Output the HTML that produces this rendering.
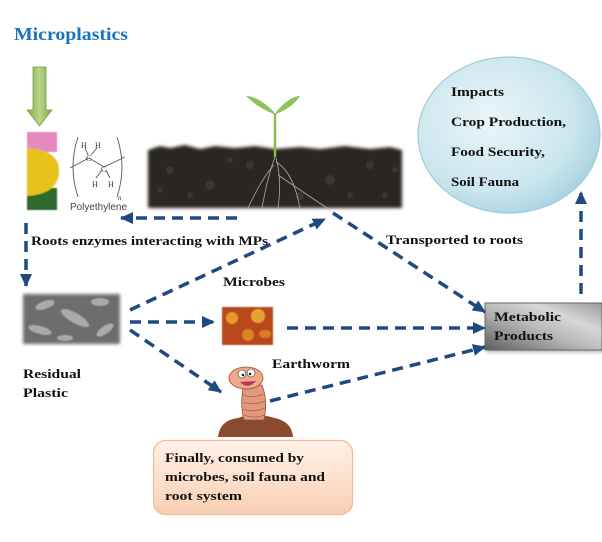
<!DOCTYPE html>
<html><head><meta charset="utf-8"><style>
html,body{margin:0;padding:0;background:#fff;}
svg{display:block;}
text{font-family:"Liberation Serif",serif;font-weight:bold;fill:#111;}
</style></head><body>
<svg width="602" height="542" viewBox="0 0 602 542" xmlns="http://www.w3.org/2000/svg">
<defs>
<marker id="ah" markerUnits="userSpaceOnUse" markerWidth="14" markerHeight="12" refX="12" refY="6" orient="auto">
<path d="M0,0 L13,6 L0,12 Z" fill="#1f4a80"/>
</marker>
<linearGradient id="garrow" x1="0" y1="0" x2="1" y2="0">
<stop offset="0" stop-color="#7fa84a"/><stop offset="0.5" stop-color="#b8d58a"/><stop offset="1" stop-color="#7fa84a"/>
</linearGradient>
<radialGradient id="gcirc" cx="0.4" cy="0.4" r="0.65">
<stop offset="0" stop-color="#e9f5f8"/><stop offset="0.7" stop-color="#cbe6ee"/><stop offset="1" stop-color="#a8d3e0"/>
</radialGradient>
<linearGradient id="gmeta" x1="0" y1="1" x2="1" y2="0">
<stop offset="0" stop-color="#5e5e5e"/><stop offset="0.45" stop-color="#b8b8b8"/><stop offset="0.7" stop-color="#d6d6d6"/><stop offset="1" stop-color="#9a9a9a"/>
</linearGradient>
<linearGradient id="gfinal" x1="0" y1="0" x2="0" y2="1">
<stop offset="0" stop-color="#fff1e8"/><stop offset="1" stop-color="#f9cfb3"/>
</linearGradient>
<filter id="blur1"><feGaussianBlur stdDeviation="1.5"/></filter>
<filter id="blur05"><feGaussianBlur stdDeviation="0.6"/></filter>
<filter id="shadow"><feDropShadow dx="2" dy="2" stdDeviation="1.5" flood-color="#888" flood-opacity="0.6"/></filter>
</defs>

<!-- Title -->
<text x="14" y="40" font-size="18" style="fill:#1a72bd" textLength="114" lengthAdjust="spacingAndGlyphs">Microplastics</text>

<!-- Green arrow -->
<path d="M33,67 L46,67 L46,110 L52,110 L39.5,126 L27,110 L33,110 Z" fill="url(#garrow)" stroke="#7a9c4a" stroke-width="0.8"/>

<!-- Plastic stack -->
<g filter="url(#blur05)">
<rect x="27" y="132" width="30" height="20" fill="#e58ac0"/>
<rect x="27" y="188" width="30" height="22" fill="#2f6b2f"/>
<path d="M27,148 Q60,150 59,172 Q58,194 27,196 Z" fill="#e8c21a"/>
</g>

<!-- Polyethylene structure -->
<g stroke="#555" stroke-width="0.9" fill="none">
<path d="M78,137 Q68,167 78,197"/>
<path d="M117,137 Q127,167 117,197"/>
<path d="M70,168 L89,158 L104,167 L125,157"/>
<path d="M85,148 L88,155"/>
<path d="M97,148 L91,155"/>
<path d="M102,170 L96,178"/>
<path d="M106,170 L110,178"/>
</g>
<text x="81" y="148" font-size="8" style="fill:#333;font-weight:normal">H</text>
<text x="95" y="148" font-size="8" style="fill:#333;font-weight:normal">H</text>
<text x="86" y="161" font-size="8" style="fill:#333;font-weight:normal">C</text>
<text x="101" y="172" font-size="8" style="fill:#333;font-weight:normal">C</text>
<text x="92" y="187" font-size="8" style="fill:#333;font-weight:normal">H</text>
<text x="108" y="187" font-size="8" style="fill:#333;font-weight:normal">H</text>
<text x="118" y="200" font-size="7" style="fill:#333;font-weight:normal;font-style:italic">n</text>
<text x="70" y="210" font-size="10" style="fill:#444;font-weight:normal;font-family:'Liberation Sans',sans-serif" textLength="57" lengthAdjust="spacingAndGlyphs">Polyethylene</text>

<!-- Soil image -->
<g filter="url(#blur1)">
<path d="M148,150 L160,146 L170,148 L185,145 L200,149 L215,146 L235,148 L255,146 L275,149 L300,147 L320,149 L345,146 L370,149 L390,147 L402,150 L402,208 L148,208 Z" fill="#2a2520"/>
</g>
<g fill="#463e36" opacity="0.7">
<circle cx="170" cy="170" r="4"/><circle cx="210" cy="185" r="5"/><circle cx="250" cy="165" r="4"/>
<circle cx="330" cy="180" r="5"/><circle cx="370" cy="165" r="4"/><circle cx="190" cy="195" r="3"/>
<circle cx="300" cy="196" r="4"/><circle cx="385" cy="195" r="3"/><circle cx="160" cy="190" r="3"/>
<circle cx="230" cy="160" r="3"/><circle cx="350" cy="195" r="3"/><circle cx="395" cy="170" r="3"/>
</g>
<g stroke="#c9c2b8" stroke-width="0.8" fill="none" opacity="0.85">
<path d="M275,157 Q268,175 262,208"/>
<path d="M276,158 Q282,180 278,208"/>
<path d="M276,162 Q290,170 297,195 L300,208"/>
<path d="M274,165 Q262,178 248,208"/>
<path d="M278,175 Q300,190 330,210"/>
</g>
<!-- Plant -->
<path d="M275,113 L275,157" stroke="#8cbf4a" stroke-width="2.5"/>
<path d="M274,112 Q258,96 246,96 Q258,108 274,114 Z" fill="#8fc25a"/>
<path d="M276,112 Q290,96 300,96 Q292,108 276,114 Z" fill="#8fc25a"/>

<!-- Impacts circle -->
<ellipse cx="509" cy="135" rx="91" ry="78" fill="url(#gcirc)" stroke="#9dcbd9" stroke-width="1.2"/>
<text x="451" y="96" font-size="13" textLength="53" lengthAdjust="spacingAndGlyphs">Impacts</text>
<text x="451" y="126" font-size="13" textLength="115" lengthAdjust="spacingAndGlyphs">Crop Production,</text>
<text x="451" y="156" font-size="13" textLength="94" lengthAdjust="spacingAndGlyphs">Food Security,</text>
<text x="451" y="186" font-size="13" textLength="68" lengthAdjust="spacingAndGlyphs">Soil Fauna</text>

<!-- Residual plastic SEM image -->
<g filter="url(#blur1)">
<rect x="23" y="294" width="97" height="50" fill="#6d6d6d"/>
</g>
<g fill="#b5b5b5" opacity="0.85" filter="url(#blur05)">
<ellipse cx="45" cy="305" rx="10" ry="4" transform="rotate(-20 45 305)"/>
<ellipse cx="75" cy="318" rx="16" ry="5" transform="rotate(30 75 318)"/>
<ellipse cx="100" cy="302" rx="9" ry="4"/>
<ellipse cx="40" cy="330" rx="12" ry="4" transform="rotate(15 40 330)"/>
<ellipse cx="105" cy="330" rx="10" ry="4" transform="rotate(-35 105 330)"/>
<ellipse cx="65" cy="338" rx="8" ry="3"/>
</g>
<text x="23" y="378" font-size="13" textLength="58" lengthAdjust="spacingAndGlyphs">Residual</text>
<text x="23" y="397" font-size="13" textLength="45" lengthAdjust="spacingAndGlyphs">Plastic</text>

<!-- Microbes image -->
<g filter="url(#blur05)">
<rect x="222" y="307" width="51" height="38" fill="#b94a1c"/>
<circle cx="232" cy="318" r="6" fill="#e59a2a"/>
<circle cx="258" cy="316" r="7" fill="#e8a232"/>
<circle cx="248" cy="335" r="6" fill="#d88422"/>
<ellipse cx="265" cy="334" rx="6" ry="4" fill="#e07a24"/>
</g>
<text x="223" y="286" font-size="13" textLength="62" lengthAdjust="spacingAndGlyphs">Microbes</text>

<!-- Earthworm -->
<path d="M218,437 Q220,420 238,418 Q255,412 275,418 Q292,422 293,437 Z" fill="#8a4a30"/>
<path d="M243,388 Q240,405 244,420 L264,420 Q268,400 262,385 Z" fill="#e39a7c" stroke="#9a4a30" stroke-width="0.8"/>
<g stroke="#b45f40" stroke-width="0.8" fill="none">
<path d="M243,395 Q253,399 263,394"/><path d="M243,402 Q253,406 265,401"/><path d="M243,409 Q253,413 265,408"/><path d="M244,415 Q254,419 265,415"/>
</g>
<ellipse cx="246" cy="378" rx="17" ry="11" fill="#eea88a" stroke="#9a4a30" stroke-width="0.8"/>
<circle cx="242" cy="374" r="4" fill="#fff" stroke="#333" stroke-width="0.6"/>
<circle cx="251" cy="373" r="4" fill="#fff" stroke="#333" stroke-width="0.6"/>
<circle cx="243" cy="375" r="1.3" fill="#222"/><circle cx="250" cy="374" r="1.3" fill="#222"/>
<path d="M240,382 Q248,390 256,381" fill="#c0305a"/>
<text x="272" y="368" font-size="13" textLength="78" lengthAdjust="spacingAndGlyphs">Earthworm</text>

<!-- Metabolic products box -->
<rect x="485" y="303" width="117" height="47" fill="url(#gmeta)" stroke="#666" stroke-width="1" filter="url(#shadow)"/>
<text x="494" y="321" font-size="13" textLength="67" lengthAdjust="spacingAndGlyphs">Metabolic</text>
<text x="494" y="340" font-size="13" textLength="59" lengthAdjust="spacingAndGlyphs">Products</text>

<!-- Final box -->
<rect x="153.5" y="440.5" width="199" height="74" rx="12" ry="12" fill="url(#gfinal)" stroke="#f2b995" stroke-width="1.2"/>
<text x="165" y="462" font-size="13" textLength="139" lengthAdjust="spacingAndGlyphs">Finally, consumed by</text>
<text x="165" y="481" font-size="13" textLength="160" lengthAdjust="spacingAndGlyphs">microbes, soil fauna and</text>
<text x="165" y="500" font-size="13" textLength="77" lengthAdjust="spacingAndGlyphs">root system</text>

<!-- Labels -->
<text x="31" y="245" font-size="13" textLength="237" lengthAdjust="spacingAndGlyphs">Roots enzymes interacting with MPs</text>
<text x="386" y="244" font-size="13" textLength="137" lengthAdjust="spacingAndGlyphs">Transported to roots</text>

<!-- Arrows -->
<g stroke="#1f4a80" stroke-width="3.5" stroke-dasharray="11 7" fill="none" marker-end="url(#ah)">
<path d="M237,218 L121,218"/>
<path d="M26,223 L26,286"/>
<path d="M130,310 L325,219"/>
<path d="M333,213 L485,312"/>
<path d="M130,322 L214,322"/>
<path d="M130,330 L221,392"/>
<path d="M287,328 L485,328"/>
<path d="M270,401 L485,347"/>
<path d="M581,294 L581,192"/>
</g>
</svg>
</body></html>
